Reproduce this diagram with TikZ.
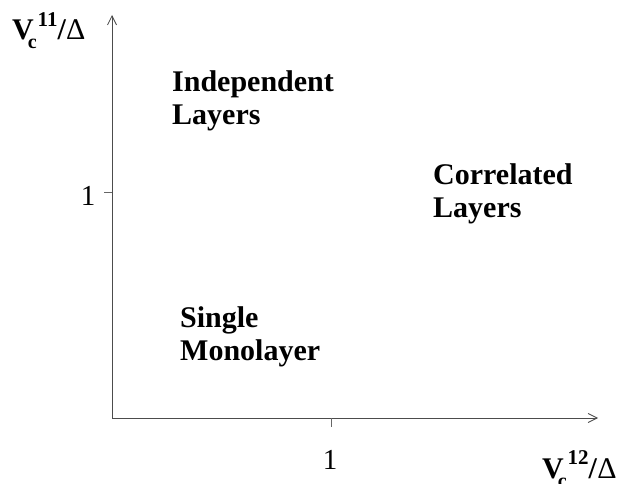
\documentclass[tikz,border=0pt]{standalone}
\usepackage{fontspec}
\setmainfont{Liberation Serif}
\usetikzlibrary{arrows.meta}
\newcommand{\vlabel}[1]{\textbf{V}\kern-6pt\raisebox{-0.3em}{\fontsize{20}{20}\selectfont\bfseries c}\kern1pt\raisebox{0.46em}{\fontsize{21}{21}\selectfont\bfseries #1}\textbf{/}Δ}
\tikzset{
  axisline/.style={draw=black!70, line width=1pt, -{Straight Barb[length=9pt,width=9pt,line width=0.8pt]}},
  tickline/.style={draw=black!60, line width=1pt},
  region/.style={font=\fontsize{30}{33}\selectfont\bfseries, align=left, anchor=base west, inner sep=0pt},
  ticklab/.style={anchor=base, inner sep=0pt},
  axlab/.style={anchor=base west, inner sep=0pt, font=\fontsize{30}{33}\selectfont}
}
\begin{document}
\begin{tikzpicture}[x=1pt,y=-1pt,every node/.style={font=\fontsize{29}{33}\selectfont}]
\useasboundingbox (0,0) rectangle (624,484);
\coordinate (O) at (112,418);
\coordinate (xe) at (598,418);
\coordinate (ye) at (112,15);
\coordinate (xt) at (331,418);
\coordinate (xtb) at (331,427);
\coordinate (yt) at (112,192);
\coordinate (ytb) at (104,192);
\draw[axisline] (O) -- (xe);
\draw[axisline] (O) -- (ye);
\draw[tickline] (xt) -- (xtb);
\draw[tickline] (yt) -- (ytb);
\node[ticklab] (x1) at (330,469) {1};
\node[ticklab] (y1) at (88,205) {1};
\node[axlab] (ylab) at (12,40) {\vlabel{11}};
\node[axlab] (xlab) at (542,478) {\vlabel{12}};
\node[region] (ind) at (172,125) {Independent\\Layers};
\node[region] (cor) at (433,217) {Correlated\\Layers};
\node[region] (sin) at (180,360) {Single\\Monolayer};
\end{tikzpicture}
\end{document}
